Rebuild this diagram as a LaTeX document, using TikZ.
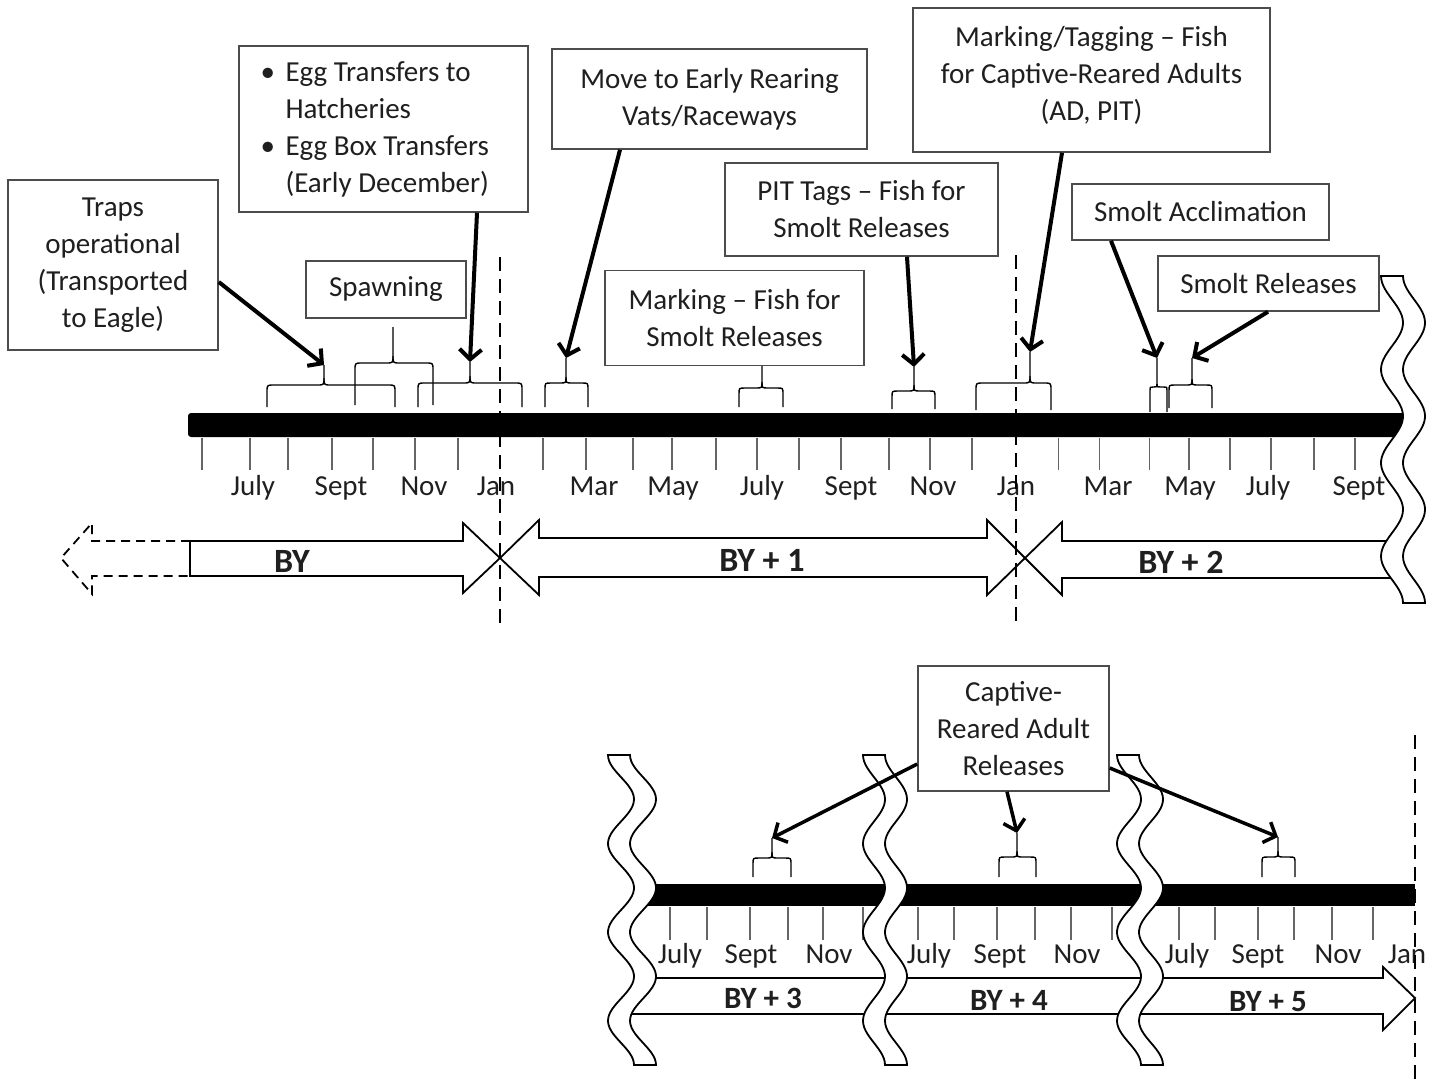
\documentclass[tikz,border=0pt]{standalone}
\usepackage{fontspec}
\setmainfont{Carlito}
\usetikzlibrary{arrows.meta}
\definecolor{txt}{rgb}{0.12,0.12,0.12}
\definecolor{edge}{rgb}{0.3,0.3,0.3}
\definecolor{tickc}{rgb}{0.4,0.4,0.4}
\newcommand\tlbrace[7]{%
  \draw[brc] (#1,#4) -- (#1,{#5+#7}) .. controls (#1,#5) .. ({#1+#7},#5) -- ({#3-#7},#5) .. controls (#3,#5) .. (#3,{#5-#7}) -- (#3,#6);
  \draw[brc] (#2,#4) -- (#2,{#5+#7}) .. controls (#2,#5) .. ({#2-#7},#5) -- ({#3+#7},#5) .. controls (#3,#5) .. (#3,{#5-#7});}
\newcommand\wavyrib[6]{%
  \filldraw[rib] plot[domain=0:#3,samples=100] ({#1+#4-#4*cos(\x/#3*#5*180)},{#2+\x}) -- plot[domain=#3:0,samples=100] ({#1+#6+#4-#4*cos(\x/#3*#5*180)},{#2+\x}) -- cycle;}
\begin{document}
\begin{tikzpicture}[x=1pt,y=-1pt,
  box/.style={draw=edge,line width=1.5pt,fill=white,inner sep=0pt,align=center,text=txt,font=\fontsize{29}{37}\selectfont},
  month/.style={text=txt,font=\fontsize{29}{35}\selectfont,inner sep=0pt,anchor=base},
  yr/.style={text=txt,font=\fontsize{34}{40}\selectfont\bfseries,inner sep=0pt,anchor=base},
  yrb/.style={text=txt,font=\fontsize{31}{37}\selectfont\bfseries,inner sep=0pt,anchor=base},
  tick/.style={draw=tickc,line width=1.6pt},
  brc/.style={draw=black,line width=1.4pt},
  arr/.style={draw=black,line width=4pt,-{Straight Barb[length=10pt,width=22pt]}},
  arrb/.style={draw=black,line width=3.5pt,-{Straight Barb[length=10pt,width=22pt]}},
  yarrow/.style={draw=black,line width=1.8pt,fill=white,line join=miter},
  dashv/.style={draw=black,line width=2pt,dash pattern=on 14pt off 8pt},
  rib/.style={draw=black,line width=1.8pt,fill=white}]
\useasboundingbox (0,0) rectangle (1442,1088);

% ---------- upper timeline ----------
\fill[black,rounded corners=3pt] (188,413) rectangle (1408,437);
\foreach \t in {201.7,250,287.7,331.7,373,415,458,543,585.7,632.7,672,716,757,799,840.7,889,930,972,1058.6,1099.6,1149.6,1189,1230,1271,1314,1355}
  \draw[tick] (\t,438) -- (\t,470);
\foreach \mx/\mn [count=\i] in {253/July,341/Sept,424/Nov,496/Jan,594/Mar,673/May,762/July,851/Sept,933/Nov,1016/Jan,1108/Mar,1190/May,1268/July,1359/Sept}
  \node[month] (tm\i) at (\mx,495) {\mn};

% braces (upper)
\coordinate (tip1) at (324,365);
\coordinate (tip2) at (393,327);
\coordinate (tip3) at (470,362);
\coordinate (tip4) at (566,358);
\coordinate (tip5) at (762,366);
\coordinate (tip6) at (914,367);
\coordinate (tip7) at (1030,352);
\coordinate (tip8) at (1157,358);
\coordinate (tip9) at (1192,358);
\tlbrace{267}{395}{324}{407}{385}{365}{7}
\tlbrace{355}{433}{393}{405}{363}{327}{7}
\tlbrace{418}{522}{470}{407}{383}{362}{7}
\tlbrace{545}{588}{566}{407}{383}{358}{6}
\tlbrace{739}{783}{762}{407}{388}{366}{6}
\tlbrace{892}{935}{914}{409}{391}{367}{6}
\tlbrace{976}{1051}{1030}{410}{383}{352}{7}
\tlbrace{1150}{1167}{1157}{412}{387}{358}{3}
\tlbrace{1169}{1212}{1192}{408}{385}{358}{6}

% boxes (upper)
\node[box,minimum width=210pt,minimum height=170pt] (traps) at (113,265) {Traps\\operational\\(Transported\\to Eagle)};
\node[box,minimum width=289pt,minimum height=166pt,text width=246pt,align=flush left] (egg) at (383.5,129)
  {\makebox[25pt][l]{\textbullet}Egg Transfers to\\\hspace*{25pt}Hatcheries\\\makebox[25pt][l]{\textbullet}Egg Box Transfers\\\hspace*{25pt}(Early December)};
\node[box,minimum width=160pt,minimum height=57pt] (spawn) at (386,289.5) {Spawning};
\node[box,minimum width=315pt,minimum height=100pt] (move) at (709.5,99) {Move to Early Rearing\\Vats/Raceways};
\node[box,minimum width=259pt,minimum height=95pt] (mark) at (734.5,318) {Marking -- Fish for\\Smolt Releases};
\node[box,minimum width=273pt,minimum height=93pt] (pit) at (861.5,209.5) {PIT Tags -- Fish for\\Smolt Releases};
\node[box,minimum width=357pt,minimum height=144pt,text depth=14pt] (mtag) at (1091.5,80) {Marking/Tagging -- Fish\\for Captive-Reared Adults\\(AD, PIT)};
\node[box,minimum width=257pt,minimum height=56pt] (sacc) at (1200.5,212) {Smolt Acclimation};
\node[box,minimum width=221pt,minimum height=55pt] (srel) at (1268.5,283.5) {Smolt Releases};

% arrows (upper)
\draw[arr] (traps.east |- 0,282) -- (tip1);
\draw[arr] (egg.south -| 477,0) -- (tip3);
\draw[arr] (move.south -| 620,0) -- (tip4);
\draw[arr] (pit.south -| 907,0) -- (tip6);
\draw[arr] (mtag.south -| 1062,0) -- (tip7);
\draw[arr] (sacc.south -| 1111,0) -- (tip8);
\draw[arr] (srel.south -| 1268,0) -- (tip9);

% year arrows (upper)
\draw[draw=black,line width=1.8pt,dash pattern=on 9pt off 6pt] (190,541) -- (92,541) -- (92,523) -- (61,558) -- (92,594) -- (92,576) -- (190,576);
\draw[yarrow] (190,541) -- (463,541) -- (463,523) -- (500,558) -- (463,593) -- (463,576) -- (190,576) -- cycle;
\draw[yarrow] (500,558) -- (539,520) -- (539,538) -- (987,538) -- (987,520) -- (1025,558) -- (987,595) -- (987,577) -- (539,577) -- (539,595) -- cycle;
\draw[yarrow] (1395,578) -- (1062,578) -- (1062,595) -- (1025,558) -- (1062,522) -- (1062,541) -- (1395,541);
\node[yr] (by0) at (292,572) {BY};
\node[yr] (by1) at (762,571) {BY + 1};
\node[yr] (by2) at (1181,573) {BY + 2};

\draw[dashv] (500,257) -- (500,630);
\draw[dashv] (1016,255) -- (1016,628);

\wavyrib{1381}{276}{327}{11}{7}{22}

% ---------- lower timeline ----------
\fill[black] (645,884) rectangle (1415,906);
\foreach \t in {670,707,750,788,823,863,918,954,997,1035,1071,1112,1179,1215,1258,1294,1332,1373}
  \draw[tick] (\t,907) -- (\t,940);
\foreach \mx/\mn [count=\i] in {680/July,751/Sept,829/Nov,929/July,1000/Sept,1077/Nov,1187/July,1258/Sept,1338/Nov,1407/Jan}
  \node[month] (bm\i) at (\mx,963) {\mn};

\coordinate (btip1) at (772,838);
\coordinate (btip2) at (1017,833);
\coordinate (btip3) at (1278,837);
\tlbrace{753}{791}{772}{877}{858}{838}{6}
\tlbrace{999}{1036}{1017}{877}{857}{833}{6}
\tlbrace{1262}{1295}{1278}{877}{857}{837}{6}

\filldraw[yarrow] (645,978) -- (1383,978) -- (1383,967) -- (1415,998) -- (1383,1030) -- (1383,1014) -- (620,1014);
\node[yrb] (by3) at (763,1008) {BY + 3};
\node[yrb] (by4) at (1009,1010) {BY + 4};
\node[yrb] (by5) at (1268,1011) {BY + 5};

\wavyrib{608}{755}{310}{13}{7}{22}
\wavyrib{863}{755}{310}{11}{7}{22}
\wavyrib{1117}{755}{310}{12}{7}{22}

\node[box,minimum width=191pt,minimum height=125pt] (cra) at (1013.5,728.5) {Captive-\\Reared Adult\\Releases};
\draw[arrb] (cra.west |- 0,764) -- (btip1);
\draw[arrb] (cra.south -| 1007,0) -- (btip2);
\draw[arrb] (cra.east |- 0,768) -- (btip3);

\draw[dashv] (1415,735) -- (1415,1085);
\end{tikzpicture}
\end{document}
